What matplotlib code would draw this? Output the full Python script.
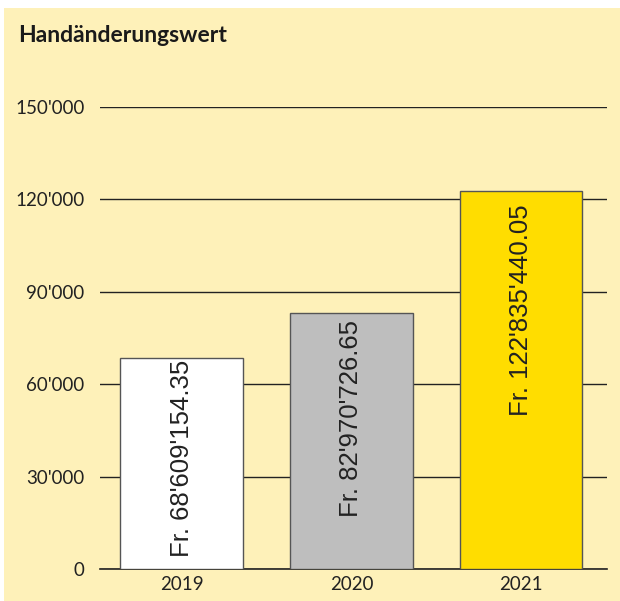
import matplotlib
matplotlib.use("Agg")
import matplotlib.pyplot as plt
from matplotlib.patches import Rectangle
from matplotlib.ticker import FuncFormatter

years = ["2019", "2020", "2021"]
values_thousands = [68609.15435, 82970.72665, 122835.44005]
bar_labels = ["Fr. 68'609'154.35", "Fr. 82'970'726.65", "Fr. 122'835'440.05"]
bar_colors = ["#FFFFFF", "#BEBEBE", "#FFDD00"]
yticks = [0, 30000, 60000, 90000, 120000, 150000]
title = "Handänderungswert"

bg = "#FEF1B9"
fig = plt.figure(figsize=(6.2, 6.01), dpi=100)
fig.patch.set_facecolor("white")
fig.patches.append(Rectangle((4/620, 0), 1, 1 - 8/601, transform=fig.transFigure,
                             facecolor=bg, edgecolor="none", zorder=-10))

ax = fig.add_axes([100/620, 1 - 569/601, 507/620, (569 - 107)/601])
ax.set_facecolor("none")
x = list(range(len(years)))
ax.bar(x, values_thousands, width=0.72, color=bar_colors, edgecolor="#555555",
       linewidth=1.0, zorder=3)
ax.set_xlim(-0.48, 2.505)
ax.set_ylim(0, 150000)
ax.set_yticks(yticks)
ax.yaxis.set_major_formatter(FuncFormatter(lambda v, p: f"{int(v):,}".replace(",", "'")))
ax.set_xticks(x)
ax.set_xticklabels(years)
ax.grid(axis="y", color="#222222", linewidth=1.0, zorder=0)
ax.set_axisbelow(True)
for s in ["top", "right", "left"]:
    ax.spines[s].set_visible(False)
ax.spines["bottom"].set_color("#222222")
ax.spines["bottom"].set_linewidth(1.2)
ax.tick_params(axis="both", length=0, labelsize=13.5, colors="#222222")
ax.tick_params(axis="y", pad=11)
ax.tick_params(axis="x", pad=5)
for lab in ax.get_xticklabels() + ax.get_yticklabels():
    lab.set_fontfamily("Lato")

offsets = [-2, -7, -14]
for xi, v, lab, off in zip(x, values_thousands, bar_labels, offsets):
    ax.annotate(lab, (xi, v), xytext=(0, off), textcoords="offset pixels",
                rotation=90, ha="center", va="top", fontsize=18.5,
                family="Liberation Sans", color="#222222", zorder=4)

fig.text(18/620, 1 - 35/601, title, fontsize=16.5, fontweight="bold",
         family="Lato", color="#1a1a1a", va="center", ha="left")

fig.savefig("out.png", dpi=100, facecolor=fig.get_facecolor())
